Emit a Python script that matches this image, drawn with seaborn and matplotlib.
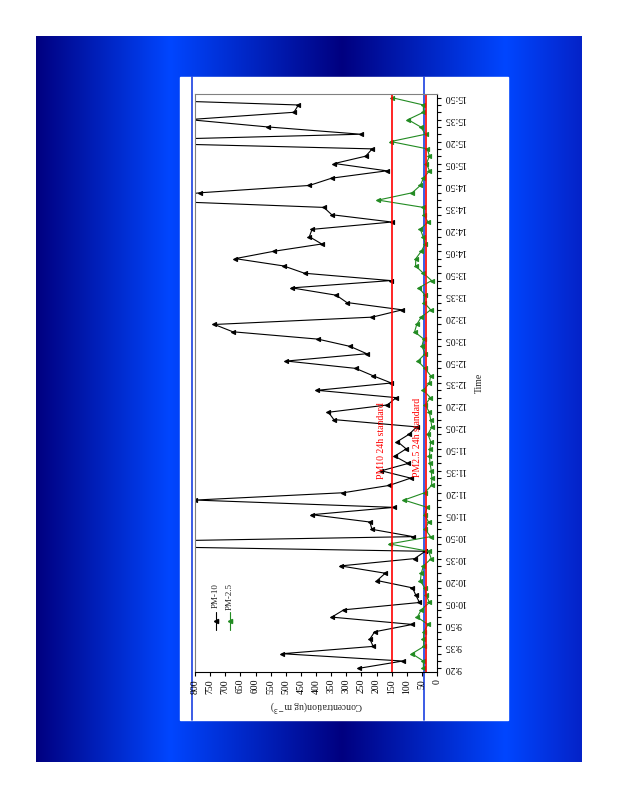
import numpy as np
import matplotlib
matplotlib.use('Agg')
import matplotlib.pyplot as plt
from matplotlib.patches import Rectangle
import seaborn as sns

# 5-minute readings, 9:20 -> 15:50 (values above 800 run off the chart)
pm10 = [259, 113, 512, 211, 222, 206, 81, 348, 308, 58,
        70, 81, 198, 171, 319, 74, 39, 1500, 79, 215,
        222, 414, 142, 800, 310, 158, 87, 184, 96, 140,
        102, 131, 92, 67, 341, 359, 164, 135, 396, 151,
        212, 269, 498, 232, 287, 394, 675, 736, 214, 115,
        298, 333, 480, 153, 438, 507, 667, 540, 381, 422,
        413, 149, 348, 374, 1000, 783, 422, 348, 166, 339,
        236, 214, 1200, 251, 560, 820, 473, 458, 1200]
pm25 = [45, 45, 83, 43, 45, 43, 30, 65, 52, 25,
        36, 41, 55, 52, 45, 19, 28, 157, 21, 39,
        28, 41, 32, 109, 41, 18, 17, 19, 23, 25,
        23, 21, 30, 17, 21, 25, 39, 22, 45, 25,
        21, 40, 63, 39, 50, 44, 74, 67, 52, 21,
        43, 39, 60, 18, 45, 71, 70, 52, 39, 46,
        55, 30, 43, 45, 195, 82, 55, 45, 25, 35,
        25, 32, 153, 38, 54, 96, 45, 45, 149]
time_labels = ['9:20', '9:35', '9:50', '10:05', '10:20', '10:35', '10:50',
               '11:05', '11:20', '11:35', '11:50', '12:05', '12:20', '12:35',
               '12:50', '13:05', '13:20', '13:35', '13:50', '14:05', '14:20',
               '14:35', '14:50', '15:05', '15:20', '15:35', '15:50']
conc_ticks = list(range(0, 801, 50))
pm10_std = 150
pm25_std = 35

sns.set_theme(style='white')
plt.rcParams['font.family'] = ['Liberation Serif', 'DejaVu Serif']

fig = plt.figure(figsize=(6.18, 8), dpi=100)

# page background in pixel coordinates
bg = fig.add_axes([0, 0, 1, 1])
bg.set_xlim(0, 618)
bg.set_ylim(800, 0)
bg.axis('off')
stops = [36, 170, 342, 506, 582]
cols = np.array([[0, 0, 128], [0, 70, 255], [0, 0, 128], [0, 70, 255], [5, 35, 200]]) / 255
xs = np.linspace(36, 582, 600)
grad = np.stack([np.interp(xs, stops, cols[:, k]) for k in range(3)], axis=1)
bg.imshow(grad[None, :, :], extent=(36, 582, 762, 36), aspect='auto')
bg.add_patch(Rectangle((180, 77), 328, 643, color='white'))
for bx in (192, 424):
    bg.plot([bx, bx], [77, 720], color='#1a3fe0', lw=1.2)

# legend drawn by hand (rotated like the rest of the page)
bg.plot([216, 216], [612, 630], color='black', lw=0.8)
bg.plot([216], [621], marker='<', color='black', ms=3)
bg.text(216, 596, 'PM-10', rotation=90, ha='center', va='center', fontsize=6.5)
bg.plot([230, 230], [612, 630], color='#228B22', lw=0.8)
bg.plot([230], [621], marker='<', color='#228B22', ms=3)
bg.text(230, 596, 'PM-2.5', rotation=90, ha='center', va='center', fontsize=6.5)

ax = fig.add_axes([195 / 618, 1 - 672 / 800, 242 / 618, 578 / 800])
ax.set_facecolor('none')
idx = np.arange(len(pm10))

sns.lineplot(x=pm10, y=idx, sort=False, estimator=None, color='black',
             marker='<', markersize=3, markeredgecolor='black', lw=0.8, ax=ax)
sns.lineplot(x=pm25, y=idx, sort=False, estimator=None, color='#228B22',
             marker='<', markersize=3, markeredgecolor='#228B22', lw=0.8, ax=ax)
ax.axvline(pm10_std, color='red', lw=1.2)
ax.axvline(pm25_std, color='red', lw=1.2)
ax.text(185, 31.1, 'PM10 24h standard', rotation=90, color='red',
        ha='center', va='center', fontsize=7)
ax.text(66, 31.5, 'PM2.5 24h standard', rotation=90, color='red',
        ha='center', va='center', fontsize=7)

ax.set_xlim(800, 0)
ax.set_ylim(-0.5, 78.5)
ax.set_xticks(conc_ticks)
ax.set_xticklabels([str(v) for v in conc_ticks], rotation=90)
ax.yaxis.tick_right()
ax.set_yticks(idx[::3])
ax.set_yticks(idx, minor=True)
ax.set_yticklabels(time_labels, rotation=180, va='center')
ax.tick_params(axis='both', which='both', direction='out', length=3,
               width=0.8, colors='black', labelsize=7, pad=2)
ax.tick_params(axis='y', which='both', right=True, left=False)
ax.tick_params(axis='x', which='both', bottom=True)

for s in ('top', 'left'):
    ax.spines[s].set_color('#808080')
    ax.spines[s].set_linewidth(0.8)
for s in ('right', 'bottom'):
    ax.spines[s].set_color('black')
    ax.spines[s].set_linewidth(0.8)

ax.set_xlabel('Concentration(ug m$^{-3}$)', rotation=180, fontsize=7)
ax.xaxis.set_label_coords(0.5, -0.045)
ax.yaxis.set_label_position('right')
ax.set_ylabel('Time', rotation=90, fontsize=7)
ax.yaxis.set_label_coords(1.155, 0.5)

fig.savefig('out.png', dpi=100)
